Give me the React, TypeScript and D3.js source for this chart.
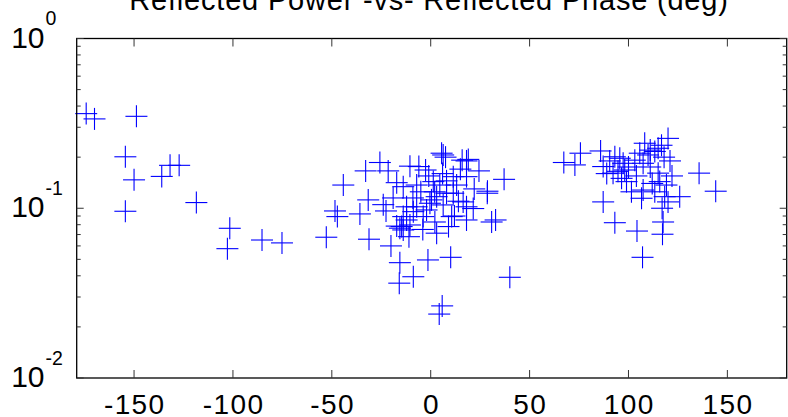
import React from "react";
import * as d3 from "d3";

const TITLE = "Reflected Power -vs- Reflected Phase (deg)";
const X_DOMAIN = [-179, 180];
const Y_DOMAIN = [0.01, 1];
const X_TICKS = [-150, -100, -50, 0, 50, 100, 150];
const Y_DECADES = [-2, -1, 0];

const phase = [
  -174.2, -170.0, -148.8, -154.4, -150.0, -136.0, -131.8, -127.2, -118.5, -154.4, -101.6, -102.8, -85.3, -75.2,
  -52.8, -48.4, -47.2, -44.2, -35.8, -32.9, -31.6, -31.2, -25.7, -22.6, -21.5, -20.1, -17.2, -17.2, -15.6, -15.9,
  -15.6, -14.7, -13.9, -13.9, -13.9, -12.2, -12.2, -10.5, -10.5, -8.8, -8.8, -7.1, -7.1, -6.0, -3.8, -2.6, -2.1,
  -1.4, -0.4, 0.4, 1.3, 2.1, 3.0, 3.0, 4.3, 4.6, 5.5, 5.8, 6.3, 6.3, 7.5, 8.0, 10.1, 10.6, 11.4, 11.4, 13.1, 15.9,
  16.4, 18.1, 18.1, 18.1, 18.1, 19.0, 21.5, 24.4, 28.6, 28.7, 30.8, 32.8, 37.1, 40.0,
  -5, 8, 14, -9, 2, 22, -19, 12, -24, 6, -4, -11, 9, 15, -1,
  67.3, 72.9, 75.7, 85.9, 87.2, 93.1, 104.3, 107.1, 117.5, 117.2, 125.9, 135.7, 144.1, 120.0, 108.2, 115.0, 116.7,
  113.3, 105.7, 109.9, 93.1, 95.6, 90.5, 97.3, 98.1, 94.7, 92.2, 96.5, 99.0, 87.2, 107.4, 103.2, 115.0, 115.8,
  119.2, 107.4, 101.5, 113.3, 106.6, 118.3, 120.0,
  111, 118, 121, 100, 111, 122, 104, 89, 112, 117,
];

const power = [
  0.361, 0.336, 0.348, 0.201, 0.147, 0.154, 0.179, 0.179, 0.108, 0.096, 0.0762, 0.0578, 0.065, 0.0625,
  0.0675, 0.0964, 0.0893, 0.137, 0.0926, 0.166, 0.112, 0.0657, 0.186, 0.0964, 0.166, 0.06, 0.1415, 0.0785, 0.0478, 0.0362,
  0.0763, 0.078, 0.134, 0.0893, 0.0745, 0.102, 0.0853, 0.177, 0.0797, 0.0395, 0.0955, 0.137, 0.102, 0.176, 0.0893, 0.168, 0.0977,
  0.0496, 0.107, 0.112, 0.1435, 0.083, 0.0713, 0.117, 0.0238, 0.137, 0.211, 0.0266, 0.206, 0.1046, 0.2, 0.1226, 0.0514, 0.0893, 0.1535, 0.1226, 0.137, 0.192,
  0.109, 0.19, 0.1535, 0.102, 0.0853, 0.194, 0.0996, 0.166, 0.1226, 0.126, 0.083, 0.0853, 0.148, 0.0392,
  0.125, 0.145, 0.11, 0.115, 0.125, 0.13, 0.115, 0.09, 0.105, 0.16, 0.075, 0.068, 0.078, 0.17, 0.155,
  0.186, 0.18, 0.211, 0.2175, 0.109, 0.0822, 0.0734, 0.0514, 0.083, 0.0703, 0.117, 0.161, 0.126, 0.258, 0.2415, 0.2256, 0.235,
  0.216, 0.211, 0.206, 0.201, 0.197, 0.19, 0.184, 0.168, 0.165, 0.161, 0.15, 0.1435, 0.176, 0.184, 0.192, 0.161, 0.1435,
  0.137, 0.128, 0.125, 0.125, 0.1145, 0.117, 0.109,
  0.22, 0.2, 0.19, 0.175, 0.175, 0.155, 0.155, 0.16, 0.14, 0.1,
];

const W = 788;
const H = 417;
const LEFT = 76.7;
const RIGHT = 786.7;
const TOP = 38.5;
const BOTTOM = 378;
const FONT = "Arial, 'Liberation Sans', Helvetica, sans-serif";

export default function App() {
  const x = d3.scaleLinear().domain(X_DOMAIN).range([LEFT, RIGHT]);
  const y = d3.scaleLog().domain(Y_DOMAIN).range([BOTTOM, TOP]);
  const minor: number[] = [];
  for (const d of Y_DECADES.slice(0, -1)) {
    for (let k = 2; k <= 9; k++) minor.push(k * Math.pow(10, d));
  }
  const m = 11;
  return (
    <svg width={W} height={H} style={{ position: "absolute", left: 0, top: 0, background: "#fff" }}>
      <rect x={0} y={0} width={W} height={H} fill="#fff" />
      <text x={429} y={9.5} textAnchor="middle" fontFamily={FONT} fontSize={29} letterSpacing={0.8} fill="#000">
        {TITLE}
      </text>
      {/* markers */}
      <g stroke="#0000ff" strokeWidth={1.1}>
        {phase.map((p, i) => {
          const cx = x(p);
          const cy = y(power[i]);
          return (
            <g key={i}>
              <line x1={cx - m} x2={cx + m} y1={cy} y2={cy} />
              <line x1={cx} x2={cx} y1={cy - m} y2={cy + m} />
            </g>
          );
        })}
      </g>
      {/* axes box */}
      <rect x={LEFT} y={TOP} width={RIGHT - LEFT} height={BOTTOM - TOP} fill="none" stroke="#000" strokeWidth={1.3} />
      {/* ticks */}
      <g stroke="#333" strokeWidth={1}>
        {X_TICKS.map((t) => (
          <g key={t}>
            <line x1={x(t)} x2={x(t)} y1={BOTTOM} y2={BOTTOM - 8} />
            <line x1={x(t)} x2={x(t)} y1={TOP} y2={TOP + 8} />
          </g>
        ))}
        {Y_DECADES.map((d) => (
          <g key={d}>
            <line x1={LEFT} x2={LEFT + 7} y1={y(Math.pow(10, d))} y2={y(Math.pow(10, d))} />
            <line x1={RIGHT} x2={RIGHT - 7} y1={y(Math.pow(10, d))} y2={y(Math.pow(10, d))} />
          </g>
        ))}
        {minor.map((v) => (
          <g key={v}>
            <line x1={LEFT} x2={LEFT + 4} y1={y(v)} y2={y(v)} />
            <line x1={RIGHT} x2={RIGHT - 4} y1={y(v)} y2={y(v)} />
          </g>
        ))}
      </g>
      {/* x tick labels */}
      {X_TICKS.map((t) => (
        <text key={t} x={x(t) + 0.7} y={413.5} textAnchor="middle" fontFamily={FONT} fontSize={28} letterSpacing={1.4} fill="#000">
          {t}
        </text>
      ))}
      {/* y tick labels */}
      {Y_DECADES.map((d) => {
        const yy = y(Math.pow(10, d));
        return (
          <g key={d}>
            <text x={44.5} y={yy + 9} textAnchor="end" fontFamily={FONT} fontSize={30} fill="#000">
              10
            </text>
            <text x={45.5} y={yy - 13.5} textAnchor="start" fontFamily={FONT} fontSize={19.5} fill="#000">
              {d}
            </text>
          </g>
        );
      })}
    </svg>
  );
}
